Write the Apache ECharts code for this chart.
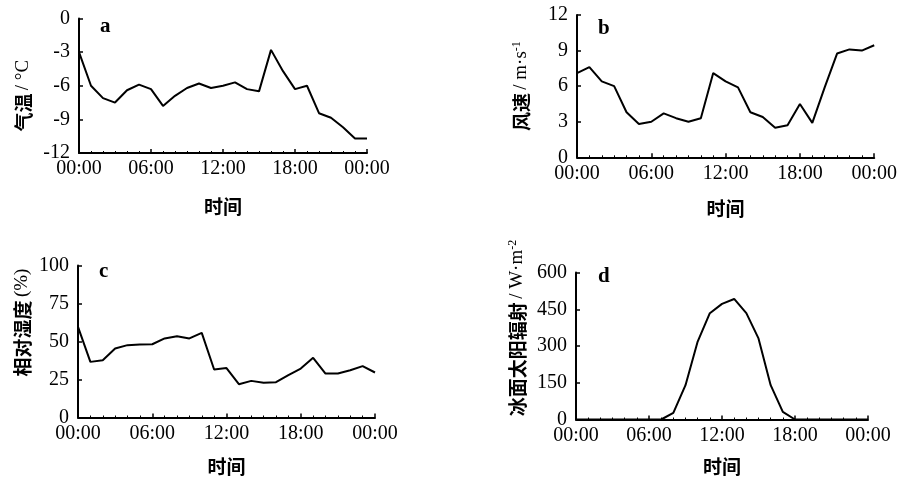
<!DOCTYPE html>
<html>
<head>
<meta charset="utf-8">
<script src="https://cdn.jsdelivr.net/npm/echarts@6/dist/echarts.min.js"></script>
<style>html,body{margin:0;padding:0;background:#fff;}#c{width:900px;height:480px;}</style>
</head>
<body>
<div id="c"></div>
<script>
// Hours of the day (x values)
const hours = [0,1,2,3,4,5,6,7,8,9,10,11,12,13,14,15,16,17,18,19,20,21,22,23,24];
const xTicks = ['00:00','06:00','12:00','18:00','00:00'];
// a: air temperature (°C)
const airTemp = [-3.0,-6.0,-7.1,-7.5,-6.4,-5.9,-6.3,-7.8,-6.9,-6.2,-5.8,-6.2,-6.0,-5.7,-6.3,-6.5,-2.8,-4.7,-6.3,-6.0,-8.45,-8.85,-9.7,-10.7,-10.7];
// b: wind speed (m/s)
const windSpeed = [7.1,7.6,6.4,6.0,3.8,2.8,3.0,3.7,3.3,3.0,3.3,7.1,6.4,5.9,3.8,3.4,2.5,2.7,4.5,2.9,5.9,8.75,9.1,9.0,9.45];
// c: relative humidity (%)
const humidity = [59.6,36.6,37.7,45.4,47.6,48.0,48.2,52.0,53.5,52.0,55.7,31.6,32.5,21.9,24.1,22.8,23.2,27.9,32.2,39.3,28.9,28.9,31.1,33.8,29.6];
// d: solar radiation on ice surface (W/m2)
const radiation = [0,0,0,0,0,0,0,0,27,140,318,434,472,492,434,331,140,31,0,0,0,0,0,0,0];

const panelLetters = ['a','b','c','d'];
const xName = '时间';

const chart = echarts.init(document.getElementById('c'));
const serif = 'Liberation Serif';
const cjk = 'Noto Sans CJK SC';
const rich = {
  c: {fontFamily: cjk, fontWeight: 'bold', fontSize: 19, color: '#000'},
  l: {fontFamily: serif, fontSize: 19, color: '#000'},
  s: {fontFamily: serif, fontSize: 12, color: '#000', padding: [0,0,9,0]}
};
const grids = [
  {left: 79, top: 18.5, width: 288, height: 134.5},
  {left: 577, top: 15, width: 299, height: 142.3},
  {left: 78, top: 265.5, width: 297, height: 152},
  {left: 576, top: 272.5, width: 292, height: 147}
];
const yCfg = [
  {min: -12, max: 0, interval: 3, name: '{c|气温} {l|/ °C}', pad: [0,20,0,0], gap: 46},
  {min: 0, max: 12, interval: 3, name: '{c|风速} {l|/ m·s}{s|-1}', pad: [0,0,0,0], gap: 45},
  {min: 0, max: 100, interval: 25, name: '{c|相对湿度} {l|(%)}', pad: [0,0,0,38], gap: 46},
  {min: 0, max: 600, interval: 150, name: '{c|冰面太阳辐射} {l|/ W·m}{s|-2}', pad: [0,0,0,36], gap: 48}
];
const xGaps = [44, 42, 40, 38];
const series = [airTemp, windSpeed, humidity, radiation];
const axisTick = {show: true, inside: true, length: 4, lineStyle: {color: '#000', width: 1.5}};

const option = {
  backgroundColor: '#fff',
  animation: false,
  grid: grids,
  title: [
    {text: panelLetters[0], left: 100, top: 16},
    {text: panelLetters[1], left: 598, top: 18},
    {text: panelLetters[2], left: 99, top: 261},
    {text: panelLetters[3], left: 598, top: 266}
  ].map(t => Object.assign(t, {padding: 0, textStyle: {fontFamily: serif, fontWeight: 'bold', fontSize: 21, color: '#000'}})),
  xAxis: grids.map((g, i) => ({
    type: 'value', gridIndex: i, min: 0, max: 24, interval: 6,
    name: xName, nameLocation: 'middle', nameGap: xGaps[i],
    nameTextStyle: {fontFamily: cjk, fontWeight: 'bold', fontSize: 19, color: '#000'},
    axisLine: {show: true, onZero: false, lineStyle: {color: '#000', width: 2}},
    axisTick: axisTick,
    minorTick: {show: true, splitNumber: 6, length: 2, lineStyle: {color: '#000', width: 1}},
    splitLine: {show: false},
    axisLabel: {fontFamily: serif, fontSize: 20, color: '#000', margin: 6,
      formatter: v => xTicks[Math.round(v / 6)]}
  })),
  yAxis: yCfg.map((c, i) => ({
    type: 'value', gridIndex: i, min: c.min, max: c.max, interval: c.interval,
    name: c.name, nameLocation: 'middle', nameRotate: 90, nameGap: c.gap,
    nameTextStyle: {rich: rich, padding: c.pad},
    axisLine: {show: true, onZero: false, lineStyle: {color: '#000', width: 2}},
    axisTick: axisTick, splitLine: {show: false},
    axisLabel: {fontFamily: serif, fontSize: 20, color: '#000', margin: 9}
  })),
  series: series.map((d, i) => ({
    type: 'line', xAxisIndex: i, yAxisIndex: i,
    data: hours.map((h, k) => [h, d[k]]),
    showSymbol: false, symbol: 'none',
    lineStyle: {color: '#000', width: 2}
  }))
};
chart.setOption(option);
</script>
</body>
</html>
